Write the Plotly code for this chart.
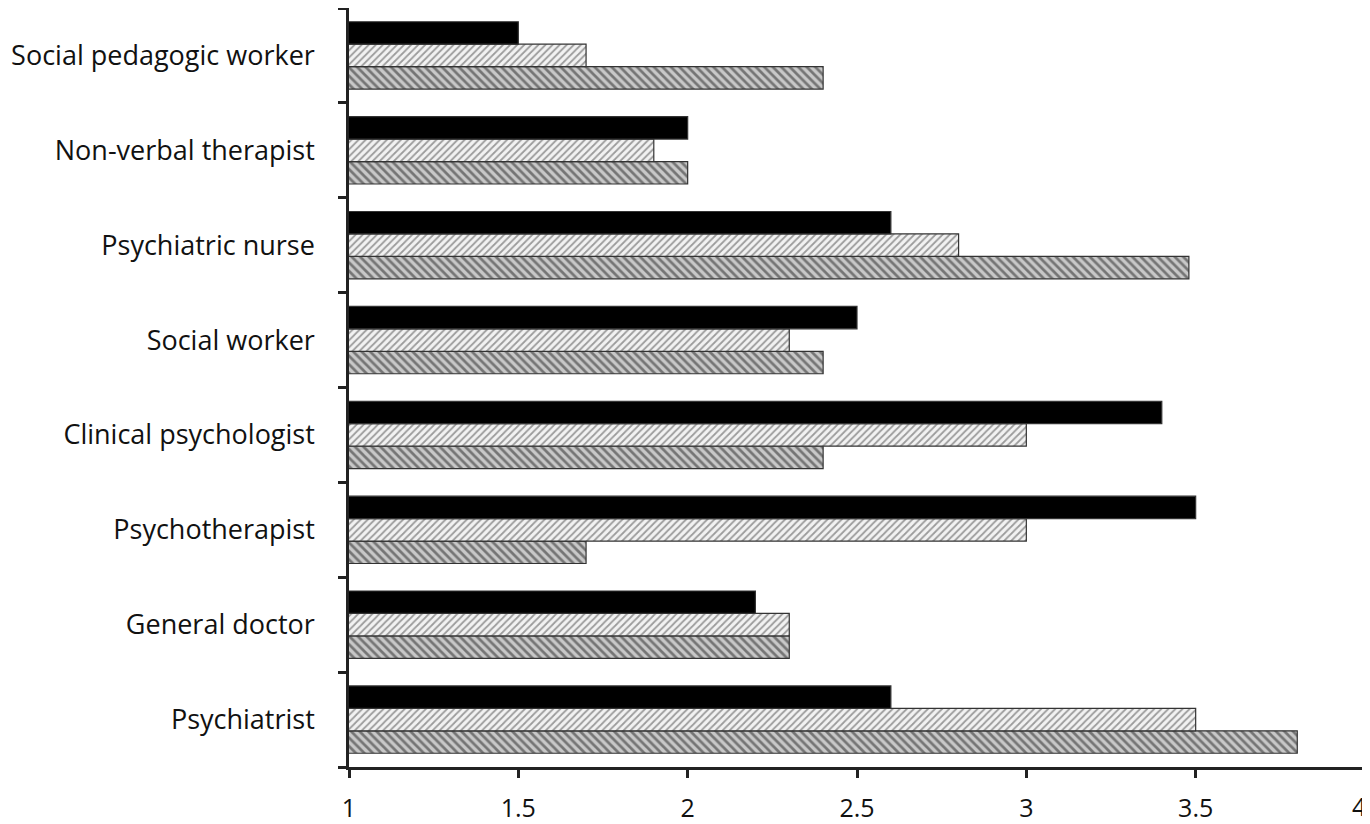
import plotly.graph_objects as go

categories = ["Psychiatrist", "General doctor", "Psychotherapist", "Clinical psychologist",
              "Social worker", "Psychiatric nurse", "Non-verbal therapist", "Social pedagogic worker"]
series_black = [2.6, 2.2, 3.5, 3.4, 2.5, 2.6, 2.0, 1.5]
series_light = [3.5, 2.3, 3.0, 3.0, 2.3, 2.8, 1.9, 1.7]
series_dark = [3.8, 2.3, 1.7, 2.4, 2.4, 3.48, 2.0, 2.4]
x_ticks = [1, 1.5, 2, 2.5, 3, 3.5, 4]
x_tick_labels = ["1", "1.5", "2", "2.5", "3", "3.5", "4"]

FONT = "Open Sans"

fig = go.Figure()
fig.add_trace(go.Bar(
    y=categories, x=series_dark, orientation="h",
    marker=dict(color="#9a9a9a", line=dict(color="#333", width=1.2),
                pattern=dict(shape="\\", fgcolor="#222", bgcolor="#c8c8c8", size=6, solidity=0.45)),
    showlegend=False))
fig.add_trace(go.Bar(
    y=categories, x=series_light, orientation="h",
    marker=dict(color="#cccccc", line=dict(color="#333", width=1.2),
                pattern=dict(shape="/", fgcolor="#444", bgcolor="#f2f2f2", size=5, solidity=0.35)),
    showlegend=False))
fig.add_trace(go.Bar(
    y=categories, x=series_black, orientation="h",
    marker=dict(color="black", line=dict(color="#333", width=1.2)),
    showlegend=False))

# The page body adds an 8px margin, so the figure is sized/margined to compensate.
fig.update_layout(
    barmode="group", bargap=0.29, bargroupgap=0,
    width=1362, height=816,
    margin=dict(l=341, r=5, t=0, b=57, autoexpand=False),
    plot_bgcolor="white", paper_bgcolor="white",
    font=dict(family=FONT, size=26, color="#111"),
)
# last tick label (at the right edge) drawn right-aligned so it stays inside the page
tick_text_shown = x_tick_labels[:-1] + [""]
fig.update_xaxes(
    range=[1, 4], tickvals=x_ticks, ticktext=tick_text_shown,
    showline=True, linecolor="#222", linewidth=2.5,
    ticks="outside", ticklen=8, tickwidth=2.5, tickcolor="#222",
    showgrid=False, zeroline=False, ticklabelstandoff=9,
    ticklabeloverflow="allow",
    tickfont=dict(family=FONT, size=25),
)
fig.add_annotation(
    x=x_ticks[-1], xref="x", y=0, yref="paper", text=x_tick_labels[-1],
    showarrow=False, xanchor="right", yanchor="middle", xshift=3, yshift=-39,
    font=dict(family=FONT, size=25, color="#111"),
)
fig.update_yaxes(
    type="category", categoryorder="array", categoryarray=categories,
    showline=True, linecolor="#222", linewidth=2.5,
    ticks="outside", ticklen=8, tickwidth=2.5, tickcolor="#222",
    tickson="boundaries", showgrid=False, ticklabelstandoff=26,
    tickfont=dict(family=FONT, size=27),
)

fig.write_html("out.html")
